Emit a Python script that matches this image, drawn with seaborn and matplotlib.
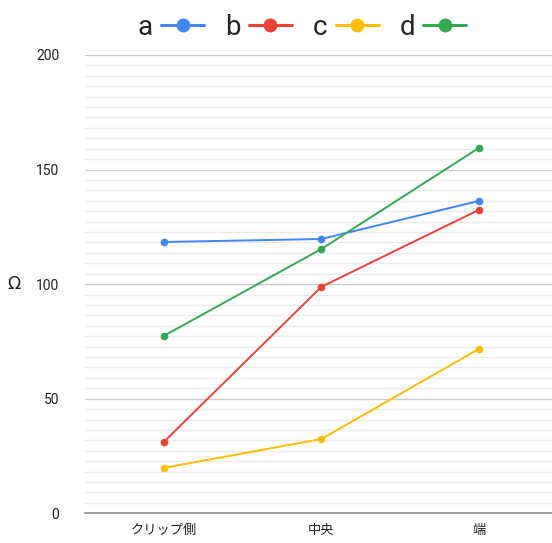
import matplotlib
matplotlib.use("Agg")
import matplotlib.pyplot as plt
from matplotlib.ticker import MultipleLocator
import seaborn as sns
import pandas as pd

# Measurement positions and resistance readings (Ω) for each sample
positions = ["クリップ側", "中央", "端"]
series_names = ["a", "b", "c", "d"]
a_values = [118.4, 119.7, 136.3]
b_values = [31.1, 98.8, 132.4]
c_values = [19.8, 32.4, 71.7]
d_values = [77.4, 115.3, 159.4]
y_ticks = [0, 50, 100, 150, 200]
colors = ["#4285F4", "#EA4335", "#FBBC04", "#34A853"]

rows = []
for name, vals in zip(series_names, [a_values, b_values, c_values, d_values]):
    for pos, v in zip(positions, vals):
        rows.append({"position": pos, "value": v, "series": name})
df = pd.DataFrame(rows)

sns.set_theme(style="white")
plt.rcParams["font.family"] = ["Noto Sans CJK JP", "DejaVu Sans"]

fig = plt.figure(figsize=(5.52, 5.43), dpi=100)
ax = fig.add_axes([85 / 552, 1 - 513.3 / 543, 1 - 85 / 552 + 0.01, (513.3 - 55) / 543])

sns.lineplot(data=df, x="position", y="value", hue="series", palette=colors,
             marker="o", markersize=5.5, markeredgewidth=0, linewidth=1.4,
             sort=False, ax=ax, legend=False)

ax.set_xlim(-0.5, 2.5)
ax.set_ylim(0, 200)
ax.set_yticks(y_ticks)
ax.yaxis.set_minor_locator(MultipleLocator(50 / 11))
ax.grid(True, which="major", axis="y", color="#cccccc", linewidth=1.0)
ax.grid(True, which="minor", axis="y", color="#ebebeb", linewidth=1.0)
ax.set_axisbelow(True)

for s in ["top", "right"]:
    ax.spines[s].set_visible(False)
ax.spines["left"].set_visible(False)
ax.spines["left"].set_position(("outward", 4))
ax.spines["bottom"].set_color("#999999")
ax.spines["bottom"].set_linewidth(1.3)
ax.spines["bottom"].set_zorder(3)

ax.tick_params(axis="y", which="major", length=1.5, width=0.8, color="#dddddd",
               direction="out", pad=13, labelsize=10, labelcolor="#222222")
ax.tick_params(axis="y", which="minor", length=0)
ax.tick_params(axis="x", length=0, pad=8, labelsize=9.5, labelcolor="#222222")
for lab in ax.get_yticklabels():
    lab.set_fontfamily(["Roboto", "DejaVu Sans"])

ax.set_xlabel("")
ax.set_ylabel("")
fig.text(14 / 552, 1 - 284 / 543, "Ω", fontsize=12.5, color="#222222",
         ha="center", va="center", family=["DejaVu Sans"])

handles = [plt.Line2D([], [], color=c, linewidth=2.2, marker="o", markersize=10,
                      markeredgewidth=0) for c in colors]
fig.legend(handles, series_names, loc="upper center", bbox_to_anchor=(302 / 552, 1.02),
           ncol=4, frameon=False, markerfirst=False,
           handlelength=1.55, handletextpad=0.3, columnspacing=0.75,
           prop={"family": ["Roboto", "DejaVu Sans"], "size": 20})

fig.savefig("out.png", dpi=100)
